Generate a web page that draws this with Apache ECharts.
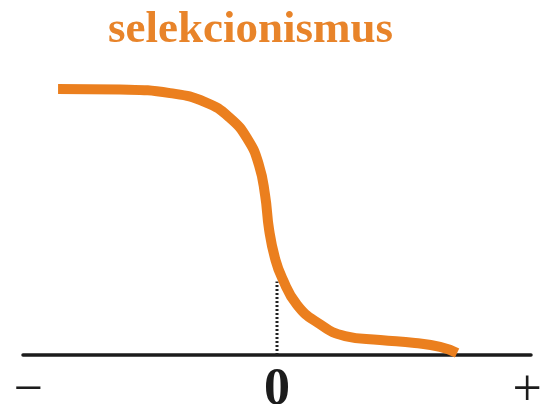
<!DOCTYPE html>
<html>
<head>
<meta charset="utf-8">
<script src="https://cdn.jsdelivr.net/npm/echarts@6/dist/echarts.min.js"></script>
<style>
  html, body { margin: 0; padding: 0; background: #fff; }
  #chart { width: 545px; height: 404px; }
</style>
</head>
<body>
<div id="chart"></div>
<script>
// curve (x: position on the axis, y: height above it)
const curveX = [-8.62, -6.18, -4.21, -2.83, -1.85, -1.14, -0.71, -0.47, -0.31, -0.08, 0.20, 0.79, 1.61, 2.68, 4.06, 5.43, 6.42, 7.09];
const curveY = [8.87, 8.85, 8.73, 8.43, 7.9, 7.17, 6.33, 5.33, 4.17, 3.23, 2.57, 1.67, 1.07, 0.63, 0.5, 0.4, 0.27, 0.07];
// dotted marker at zero
const markX = [0, 0];
const markY = [0, 2.45];
// axis labels
const tickValues = [-9.8, 0, 9.85];
const tickLabels = ["−", "0", "+"];
const titleText = "selekcionismus";

const chart = echarts.init(document.getElementById("chart"));

chart.setOption({
  backgroundColor: "#fff",
  animation: false,
  title: {
    text: titleText,
    left: 103,
    top: 3,
    textStyle: {
      fontFamily: "Liberation Serif",
      fontWeight: "bold",
      fontSize: 45,
      color: "#E8842A"
    }
  },
  grid: {
    left: 23,
    right: 14,
    top: 55,
    bottom: 49,
    containLabel: false,
    outerBoundsMode: "none"
  },
  xAxis: {
    type: "value",
    min: -10,
    max: 10,
    splitLine: { show: false },
    axisTick: { show: false },
    axisLine: {
      onZero: false,
      lineStyle: { color: "#1c1c1c", width: 3.5 }
    },
    axisLabel: {
      customValues: tickValues,
      margin: 10,
      formatter: function(value) {
        const i = tickValues.indexOf(value);
        return i === 1 ? "{b|" + tickLabels[i] + "}" : "{n|" + tickLabels[i] + "}";
      },
      rich: {
        b: {
          fontFamily: "Liberation Serif",
          fontWeight: "bold",
          fontSize: 52,
          color: "#1c1c1c"
        },
        n: {
          fontFamily: "Liberation Serif",
          fontSize: 52,
          color: "#1c1c1c"
        }
      }
    }
  },
  yAxis: {
    type: "value",
    min: 0,
    max: 10,
    show: false
  },
  series: [
    {
      type: "line",
      data: markX.map((x, i) => [x, markY[i]]),
      symbol: "none",
      lineStyle: { color: "#222", width: 3, type: [2, 2] },
      z: 1
    },
    {
      type: "line",
      data: curveX.map((x, i) => [x, curveY[i]]),
      smooth: 0.5,
      symbol: "none",
      lineStyle: { color: "#EB7F1E", width: 10, cap: "butt" },
      z: 2
    }
  ]
});
</script>
</body>
</html>
